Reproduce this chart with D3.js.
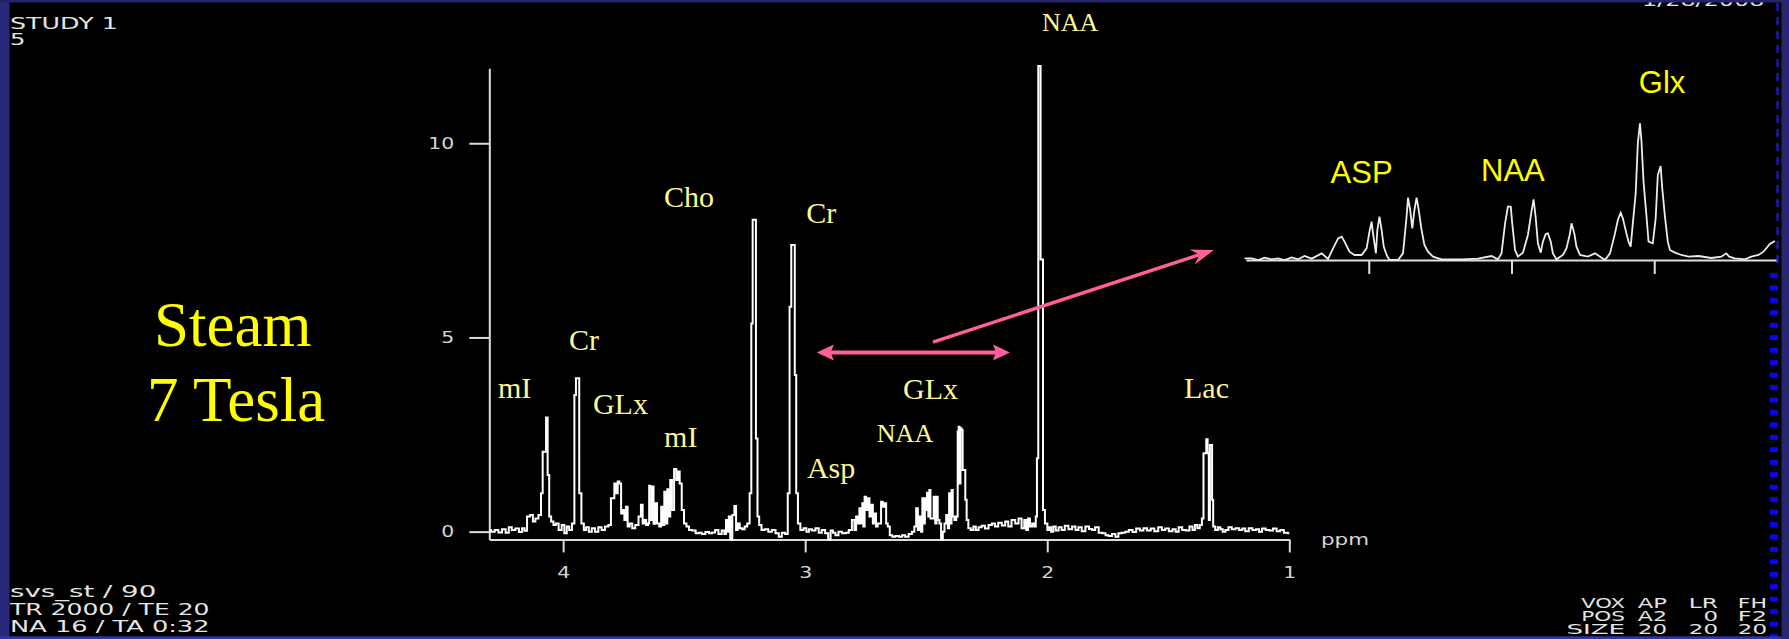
<!DOCTYPE html>
<html>
<head>
<meta charset="utf-8">
<script src="https://cdn.jsdelivr.net/npm/d3@7"></script>
<style>
  html, body { margin: 0; padding: 0; background: #000; overflow: hidden; }
  svg { display: block; }
</style>
</head>
<body>
<svg id="chart" width="1789" height="639"></svg>
<script>
// ---- Spectrum: [chemical shift (ppm), signal intensity] ----
const mainSpectrum = [
  [4.305,0.04],[4.290,0],[4.275,0.04],[4.260,-0.02],[4.245,0.06],[4.230,-0.03],[4.219,0.11],
  [4.205,0.04],[4.190,0.08],[4.175,-0.01],[4.164,0.09],[4.155,0.02],[4.143,0.39],[4.130,0.43],
  [4.120,0.26],[4.109,0.34],[4.095,0.43],[4.088,0.99],[4.081,2.06],[4.074,2.06],[4.067,2.94],
  [4.061,1.46],[4.054,0.39],[4.045,0.26],[4.035,0.17],[4.025,0.21],[4.012,0.04],[4.000,0.17],
  [3.990,-0.04],[3.980,0.13],[3.970,0.04],[3.957,0.21],[3.950,3.52],[3.944,3.95],[3.937,3.95],
  [3.930,0.99],[3.919,0.21],[3.910,0.04],[3.900,0.11],[3.888,0],[3.875,0.09],[3.862,0],
  [3.847,0.11],[3.835,0.04],[3.820,0.13],[3.806,0.17],[3.799,0.86],[3.792,0.86],[3.785,1.24],
  [3.778,0.99],[3.771,1.29],[3.764,1.24],[3.757,0.47],[3.750,0.56],[3.744,0.30],[3.737,0.64],
  [3.730,0.13],[3.720,0.21],[3.709,0.09],[3.695,0.17],[3.682,0.39],[3.675,0.69],[3.668,0.21],
  [3.661,0.30],[3.653,0.17],[3.646,0.21],[3.643,1.18],[3.638,1.16],[3.634,0.30],[3.629,1.16],
  [3.624,0.20],[3.616,0.73],[3.608,0.21],[3.598,0.13],[3.592,0.64],[3.585,0.17],[3.579,1.03],
  [3.572,0.21],[3.567,1.09],[3.561,0.39],[3.554,1.33],[3.547,0.56],[3.536,1.61],[3.529,1.33],
  [3.522,1.55],[3.515,1.24],[3.505,0.56],[3.496,0.21],[3.485,0.13],[3.475,0.04],[3.460,0.03],
  [3.445,-0.04],[3.434,-0.03],[3.420,-0.06],[3.405,-0.01],[3.390,-0.04],[3.379,-0.02],[3.365,0.04],
  [3.352,-0.06],[3.338,0.03],[3.330,-0.06],[3.324,0.30],[3.318,0],[3.313,0.39],[3.306,-0.20],
  [3.296,0.43],[3.289,0.66],[3.282,0.04],[3.276,0.21],[3.265,0.09],[3.255,0.06],[3.245,0.13],
  [3.234,0.21],[3.225,0.99],[3.220,5.36],[3.214,8.03],[3.207,8.03],[3.200,2.40],[3.194,0.39],
  [3.186,0.17],[3.175,0.04],[3.160,0.06],[3.145,0],[3.130,0.04],[3.115,-0.04],[3.103,-0.13],
  [3.090,-0.03],[3.076,-0.06],[3.068,0.99],[3.061,5.79],[3.054,7.38],[3.046,7.38],[3.040,4.03],
  [3.034,0.99],[3.026,0.21],[3.014,0.04],[3.000,0.09],[2.990,0],[2.979,0.06],[2.965,0.03],
  [2.950,0.09],[2.938,-0.03],[2.925,0.04],[2.910,-0.04],[2.900,-0.20],[2.890,0.03],[2.880,-0.03],
  [2.870,-0.09],[2.855,0],[2.840,-0.04],[2.826,-0.03],[2.814,0.04],[2.800,0.30],[2.793,0.04],
  [2.786,0.39],[2.779,0.21],[2.773,0.60],[2.766,0.21],[2.762,0.73],[2.757,0.13],[2.752,0.90],
  [2.745,0.56],[2.738,0.86],[2.731,0.39],[2.724,0.69],[2.717,0.21],[2.711,0.47],[2.704,0.13],
  [2.697,0.21],[2.690,0.21],[2.683,0.77],[2.676,0.64],[2.669,0.73],[2.662,0.21],[2.656,0.13],
  [2.645,-0.09],[2.635,-0.13],[2.620,-0.11],[2.605,-0.13],[2.594,-0.09],[2.580,-0.13],[2.565,-0.06],
  [2.553,0],[2.545,0.13],[2.538,0.60],[2.531,0.04],[2.525,0.39],[2.518,0],[2.514,0.86],
  [2.507,0.21],[2.504,0.86],[2.498,0.56],[2.495,1.00],[2.488,0.39],[2.486,1.07],[2.479,0.34],
  [2.472,0.34],[2.466,0.90],[2.459,0.21],[2.456,0.90],[2.449,0.30],[2.442,0.21],[2.435,-0.20],
  [2.428,0],[2.421,0.21],[2.414,0.43],[2.407,0.09],[2.404,0.99],[2.397,0.21],[2.394,1.07],
  [2.387,0.39],[2.380,0.30],[2.372,0.39],[2.368,2.58],[2.364,2.70],[2.360,1.24],[2.357,2.66],
  [2.352,2.62],[2.347,1.59],[2.341,1.59],[2.336,0.82],[2.330,0.30],[2.322,0.09],[2.310,0.04],
  [2.300,0.13],[2.290,0.04],[2.277,0.11],[2.265,0.15],[2.250,0.08],[2.235,0.17],[2.222,0.21],
  [2.210,0.13],[2.195,0.23],[2.180,0.16],[2.167,0.26],[2.155,0.13],[2.140,0.30],[2.125,0.21],
  [2.112,0.34],[2.100,0.09],[2.090,0.30],[2.084,0.04],[2.075,0.34],[2.068,0.13],[2.057,0.21],
  [2.050,0.13],[2.045,0.39],[2.040,1.89],[2.034,11.99],[2.030,11.99],[2.025,7.01],[2.020,7.01],
  [2.015,0.56],[2.004,0.21],[1.995,0.04],[1.988,0.11],[1.980,0],[1.970,0.13],[1.960,0.03],
  [1.946,0.11],[1.935,0.04],[1.920,0.15],[1.905,0.06],[1.890,0.13],[1.877,0.04],[1.865,0.11],
  [1.850,0.01],[1.835,0.13],[1.820,0.07],[1.809,0.04],[1.795,0.11],[1.780,-0.03],[1.765,-0.04],
  [1.753,-0.09],[1.740,-0.11],[1.725,-0.06],[1.712,-0.13],[1.700,-0.04],[1.685,-0.03],[1.671,0],
  [1.655,0.04],[1.640,-0.01],[1.625,0.08],[1.610,0.03],[1.595,0.09],[1.580,0.03],[1.565,0.08],
  [1.550,0.01],[1.533,0.11],[1.520,0.04],[1.505,0.08],[1.490,0.01],[1.475,0.06],[1.464,0],
  [1.450,0.11],[1.435,0.04],[1.420,0.03],[1.405,0.13],[1.395,0.04],[1.385,0.17],[1.375,0.09],
  [1.365,0.17],[1.357,0.34],[1.352,2.02],[1.346,2.02],[1.340,2.38],[1.335,2.02],[1.330,0.30],
  [1.326,2.23],[1.321,2.23],[1.317,0.82],[1.312,0.13],[1.300,0.04],[1.290,0.11],[1.280,0.06],
  [1.270,0],[1.258,0.04],[1.245,0.11],[1.230,0.06],[1.215,0.09],[1.200,0.04],[1.189,0.08],
  [1.175,0.01],[1.160,0.09],[1.145,0.04],[1.130,0.06],[1.120,0],[1.105,0.08],[1.090,0.04],
  [1.075,0.03],[1.060,0.08],[1.045,0.01],[1.030,0.04],[1.015,-0.03],[1.000,-0.04]
];

// Expanded 2.87-2.13 ppm region (Asp / NAA / Glx multiplets)
const insetSpectrum = [
  [2.874,0.013],[2.864,0.013],[2.855,-0.02],[2.846,0.027],[2.836,-0.007],[2.827,0.013],
  [2.818,-0.02],[2.808,0.033],[2.799,-0.007],[2.790,0.06],[2.780,0.007],[2.766,0.113],
  [2.757,0],[2.750,0.213],[2.743,0.413],[2.738,0.447],[2.734,0.347],[2.727,0.147],
  [2.720,0.08],[2.710,0.08],[2.703,0.213],[2.699,0.547],[2.696,0.747],[2.694,0.513],
  [2.690,0.113],[2.688,0.58],[2.685,0.847],[2.682,0.58],[2.679,0.247],[2.675,0.08],
  [2.671,-0.02],[2.659,-0.02],[2.652,0.113],[2.647,0.847],[2.645,1.227],[2.642,0.98],
  [2.639,0.613],[2.636,0.98],[2.633,1.227],[2.630,0.98],[2.626,0.58],[2.622,0.28],
  [2.617,0.147],[2.610,0.047],[2.598,-0.007],[2.570,-0.007],[2.547,0.007],[2.528,0.06],
  [2.519,-0.007],[2.514,0.113],[2.509,0.713],[2.505,1.047],[2.501,1.047],[2.499,0.713],
  [2.495,0.18],[2.491,0.047],[2.484,0.127],[2.477,0.48],[2.472,0.947],[2.469,1.193],
  [2.466,0.813],[2.463,0.313],[2.459,0.127],[2.456,0.347],[2.452,0.5],[2.449,0.513],
  [2.445,0.347],[2.442,0.113],[2.437,-0.007],[2.428,0.08],[2.423,0.213],[2.418,0.513],
  [2.416,0.713],[2.412,0.513],[2.409,0.247],[2.404,0.08],[2.393,0.047],[2.383,0.113],
  [2.369,-0.02],[2.362,0.113],[2.355,0.513],[2.351,0.78],[2.347,0.927],[2.344,0.813],
  [2.339,0.513],[2.336,0.347],[2.333,0.247],[2.330,0.713],[2.326,1.313],[2.323,2.313],
  [2.320,2.713],[2.318,2.38],[2.315,1.547],[2.311,0.88],[2.308,0.347],[2.302,0.313],
  [2.298,0.813],[2.295,1.68],[2.291,1.86],[2.289,1.447],[2.285,0.847],[2.281,0.347],
  [2.278,0.18],[2.271,0.127],[2.262,0.08],[2.252,0.047],[2.238,0.06],[2.220,0.02],
  [2.206,0.047],[2.199,0.113],[2.195,0.047],[2.187,0.013],[2.173,-0.007],[2.164,0.047],
  [2.154,0.08],[2.147,0.147],[2.145,0.18],[2.138,0.3],[2.131,0.36]
];

// ---- Axis ticks ----
const yTicks = [0, 5, 10];
const xTicks = [4, 3, 2, 1];
const insetTicks = [2.7, 2.5, 2.3];

// ---- Metabolite labels, anchored in (ppm, intensity) ----
const peakLabels = [
  { text: "mI",  ppm: 4.269, value: 3.44 },
  { text: "Cr",  ppm: 3.976, value: 4.68 },
  { text: "GLx", ppm: 3.877, value: 3.03 },
  { text: "mI",  ppm: 3.583, value: 2.18 },
  { text: "Cho", ppm: 3.583, value: 8.36 },
  { text: "Cr",  ppm: 2.996, value: 7.95 },
  { text: "Asp", ppm: 2.993, value: 1.38 },
  { text: "GLx", ppm: 2.596, value: 3.42 },
  { text: "Lac", ppm: 1.435, value: 3.44 }
];
const naaLabels = [
  { text: "NAA", ppm: 2.704, value: 2.31 },
  { text: "NAA", ppm: 2.022, value: 12.89 }
];
const insetLabels = [
  { text: "ASP", ppm: 2.710, value: 1.52 },
  { text: "NAA", ppm: 2.498, value: 1.57 },
  { text: "Glx", ppm: 2.289, value: 3.33 }
];

// Expanded region marker and link to the inset
const spanArrow = { from: 2.952, to: 2.154, level: 4.61 };
const linkArrow = { ppm: 2.472, value: 4.88, insetPpm: 2.917, insetValue: 0.18 };

// ---- Scanner annotations ----
const headerLines = ["STUDY 1", "5"];
const protocolLines = ["svs_st / 90", "TR 2000 / TE 20", "NA 16 / TA 0:32"];
const voxelTable = [
  ["VOX", "AP", "LR", "FH"],
  ["POS", "A2", "0", "F2"],
  ["SIZE", "20", "20", "20"]
];
const titleLines = ["Steam", "7 Tesla"];

// ================= drawing =================
const svg = d3.select("#chart");
const W = 1789, H = 639;
const TERM = "'DejaVu Sans', Verdana, sans-serif";
const SERIF = "'Liberation Serif', 'Times New Roman', serif";
const SANS = "'Liberation Sans', Arial, sans-serif";
const PINK = "#ff5f9c";
const LABEL_YELLOW = "#fcf994";
const INFO = "#e4e4e4";

svg.append("rect").attr("width", W).attr("height", H).attr("fill", "#000");

// main scales
const x = d3.scaleLinear().domain([4.305, 1.0]).range([489.3, 1289.3]);
const y = d3.scaleLinear().domain([-0.2, 11.93]).range([539.4, 68.3]);

// inset scales
const ix = d3.scaleLinear().domain([2.872, 2.128]).range([1246, 1777]);
const iy = d3.scaleLinear().domain([0, 3]).range([259, 109]);

// console-style text: glyphs stretched to a fixed character pitch
function termText(sel, pitch) {
  sel.attr("font-family", TERM)
    .attr("font-size", 16)
    .attr("fill", INFO)
    .attr("lengthAdjust", "spacingAndGlyphs")
    .attr("textLength", function () { return this.textContent.length * pitch; });
}

function styleAxis(g) {
  g.attr("font-family", null).attr("font-size", null);
  g.select(".domain").attr("stroke", "#dcdcdc").attr("stroke-width", 2);
  g.selectAll(".tick line").attr("stroke", "#dcdcdc").attr("stroke-width", 2);
  g.selectAll(".tick text").call(termText, 13).attr("fill", "#d6d6d6");
}

// y axis
svg.append("g")
  .attr("transform", "translate(489.3,0)")
  .call(d3.axisLeft(y).tickValues(yTicks).tickFormat(d3.format("d"))
    .tickSize(20).tickPadding(15).tickSizeOuter(0))
  .call(styleAxis);

// x axis
svg.append("g")
  .attr("transform", "translate(0,539.4)")
  .call(d3.axisBottom(x).tickValues(xTicks).tickFormat(d3.format("d"))
    .tickSize(13).tickPadding(14).tickSizeOuter(0))
  .call(styleAxis);

svg.append("text")
  .attr("x", 1321).attr("y", 545)
  .text("ppm")
  .call(termText, 16)
  .attr("fill", "#d6d6d6");

// main spectrum trace
const line = d3.line()
  .x(d => x(d[0]))
  .y(d => y(d[1]))
  .curve(d3.curveStep);

svg.append("path")
  .datum(mainSpectrum)
  .attr("d", line)
  .attr("fill", "none")
  .attr("stroke", "#ffffff")
  .attr("stroke-width", 2)
  .attr("stroke-linejoin", "miter");

// inset axis and trace
svg.append("g")
  .attr("transform", "translate(0,260)")
  .call(d3.axisBottom(ix).tickValues(insetTicks).tickSize(14).tickFormat("").tickSizeOuter(0))
  .call(g => {
    g.select(".domain").attr("stroke", "#e0e0e0").attr("stroke-width", 2);
    g.selectAll(".tick line").attr("stroke", "#e0e0e0").attr("stroke-width", 2);
  });

svg.append("path")
  .datum(insetSpectrum)
  .attr("d", d3.line().x(d => ix(d[0])).y(d => iy(d[1])))
  .attr("fill", "none")
  .attr("stroke", "#ececec")
  .attr("stroke-width", 1.8);

// metabolite labels
svg.append("g").selectAll("text")
  .data(peakLabels).join("text")
  .attr("x", d => x(d.ppm)).attr("y", d => y(d.value))
  .attr("font-family", SERIF).attr("font-size", 30)
  .attr("fill", LABEL_YELLOW)
  .text(d => d.text);

svg.append("g").selectAll("text")
  .data(naaLabels).join("text")
  .attr("x", d => x(d.ppm)).attr("y", d => y(d.value))
  .attr("font-family", SERIF).attr("font-size", 26)
  .attr("fill", LABEL_YELLOW)
  .text(d => d.text);

svg.append("g").selectAll("text")
  .data(insetLabels).join("text")
  .attr("x", d => ix(d.ppm)).attr("y", d => iy(d.value))
  .attr("text-anchor", "middle")
  .attr("font-family", SANS).attr("font-size", 31)
  .attr("fill", "#ffff00")
  .text(d => d.text);

// title
svg.append("g").selectAll("text")
  .data(titleLines).join("text")
  .attr("x", (d, i) => i === 0 ? 154 : 147)
  .attr("y", (d, i) => i === 0 ? 346 : 421)
  .attr("font-family", SERIF).attr("font-size", 63)
  .attr("fill", "#ffff00")
  .text(d => d);

// arrows
function arrowHead(tx, ty, ux, uy, len, half, notch) {
  const nx = -uy, ny = ux;
  const bx = tx - ux * len, by = ty - uy * len;
  return [
    [tx, ty],
    [bx + nx * half, by + ny * half],
    [tx - ux * notch, ty - uy * notch],
    [bx - nx * half, by - ny * half]
  ];
}
const arrows = svg.append("g");

// double-headed span arrow
{
  const yA = y(spanArrow.level);
  const xL = x(spanArrow.from), xR = x(spanArrow.to);
  const L = 17, Wd = 8, N = 14;
  arrows.append("line")
    .attr("x1", xL + N).attr("y1", yA).attr("x2", xR - N).attr("y2", yA)
    .attr("stroke", PINK).attr("stroke-width", 4);
  arrows.append("polygon")
    .attr("points", arrowHead(xL, yA, -1, 0, L, Wd, N).join(" "))
    .attr("fill", PINK);
  arrows.append("polygon")
    .attr("points", arrowHead(xR, yA, 1, 0, L, Wd, N).join(" "))
    .attr("fill", PINK);
}

// link arrow towards the inset
{
  const x0 = x(linkArrow.ppm), y0 = y(linkArrow.value);
  const x1 = ix(linkArrow.insetPpm), y1 = iy(linkArrow.insetValue);
  const len = Math.hypot(x1 - x0, y1 - y0);
  const ux = (x1 - x0) / len, uy = (y1 - y0) / len;
  const L = 23, Wd = 8, N = 15;
  arrows.append("line")
    .attr("x1", x0).attr("y1", y0)
    .attr("x2", x1 - ux * N).attr("y2", y1 - uy * N)
    .attr("stroke", PINK).attr("stroke-width", 3.5);
  arrows.append("polygon")
    .attr("points", arrowHead(x1, y1, ux, uy, L, Wd, N).join(" "))
    .attr("fill", PINK);
}

// scanner text blocks
svg.append("g").selectAll("text")
  .data(headerLines).join("text")
  .attr("x", 10).attr("y", (d, i) => 28.5 + i * 16)
  .text(d => d)
  .call(termText, 15.4);

svg.append("g").selectAll("text")
  .data(protocolLines).join("text")
  .attr("x", 10).attr("y", (d, i) => 597 + i * 17.6)
  .text(d => d)
  .call(termText, 13.3);

// voxel geometry table, right-aligned columns
const colRight = [1625, 1667, 1718, 1767];
voxelTable.forEach((row, r) => {
  svg.append("g").selectAll("text")
    .data(row).join("text")
    .attr("x", (d, c) => colRight[c])
    .attr("y", 608 + r * 13.2)
    .attr("text-anchor", "end")
    .text(d => d)
    .call(termText, 14.6)
    .attr("font-size", 14.5);
});

// clipped date stamp along the top edge
svg.append("text")
  .attr("x", 1642).attr("y", 6)
  .text("1/28/2008")
  .call(termText, 13.6);

// right-hand blue scale markers
svg.append("line")
  .attr("x1", 1777.5).attr("x2", 1777.5).attr("y1", 3).attr("y2", 264)
  .attr("stroke", "#1a1aff").attr("stroke-width", 2)
  .attr("stroke-dasharray", "8 6");
svg.append("g").selectAll("rect")
  .data(d3.range(273, 636, 12.45)).join("rect")
  .attr("x", 1770).attr("y", d => d).attr("width", 8).attr("height", 5)
  .attr("fill", "#0808f0");

// slide frame
svg.append("rect").attr("x", 0).attr("y", 0).attr("width", 9.5).attr("height", H).attr("fill", "#29297c");
svg.append("rect").attr("x", 0).attr("y", 0).attr("width", W).attr("height", 2.5).attr("fill", "#23236a");
svg.append("rect").attr("x", 0).attr("y", 636.3).attr("width", W).attr("height", 3).attr("fill", "#3434a0");
svg.append("rect").attr("x", 1781.5).attr("y", 0).attr("width", 7.5).attr("height", H).attr("fill", "#272770");
</script>
</body>
</html>
